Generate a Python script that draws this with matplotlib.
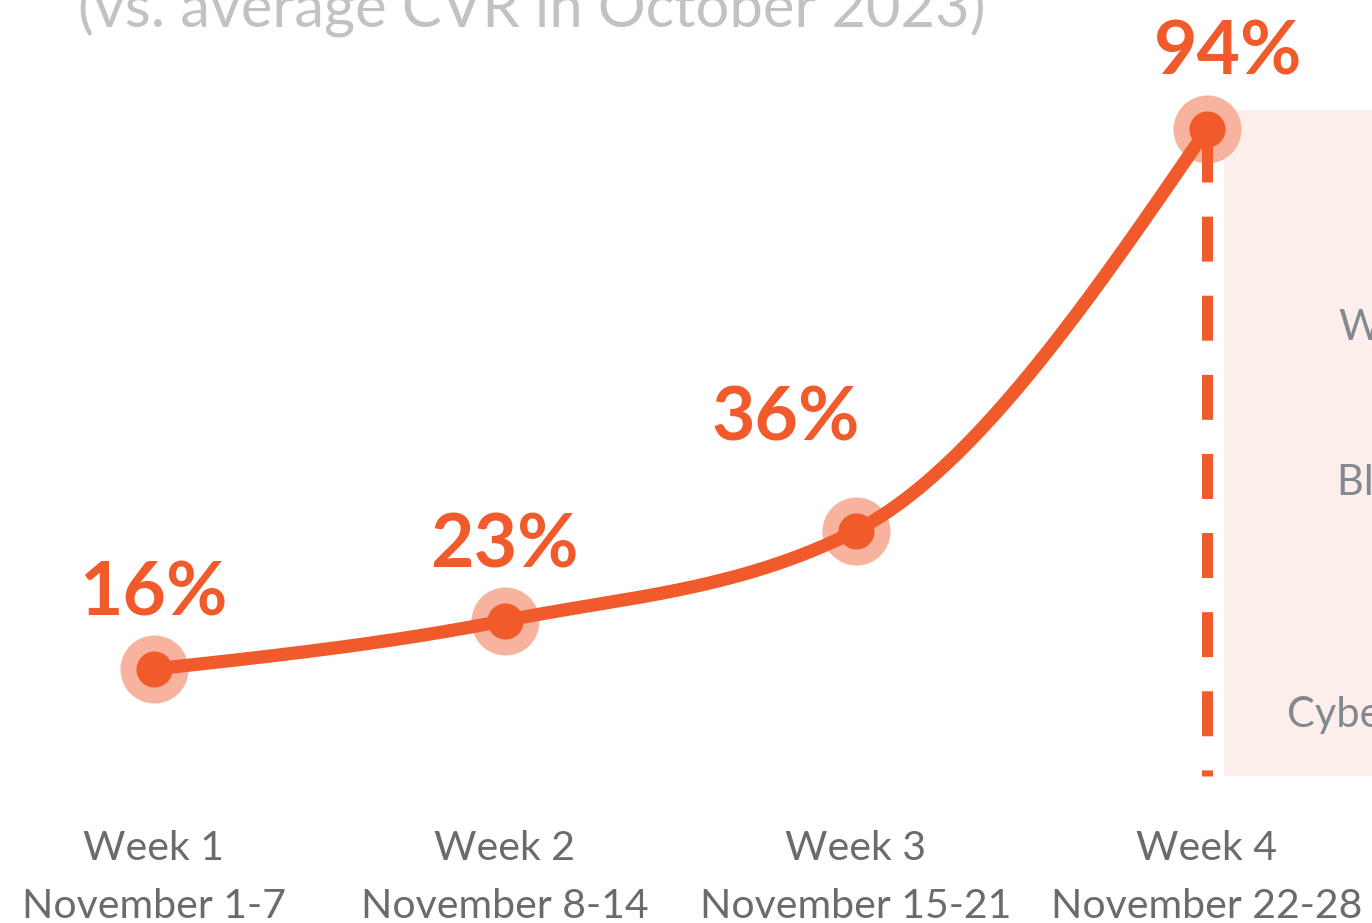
import numpy as np
import matplotlib
matplotlib.use("Agg")
import matplotlib.pyplot as plt
from matplotlib.transforms import blended_transform_factory

# ---------------- data ----------------
weeks = ["Week 1", "Week 2", "Week 3", "Week 4"]
date_ranges = ["November 1-7", "November 8-14", "November 15-21", "November 22-28"]
cvr_lift = [16, 23, 36, 94]          # % increase vs. October average CVR
title_text = "(vs. average CVR in October 2023)"
panel_labels = ["Weekend", "Black Friday", "Cyber Monday"]

# ---------------- style ----------------
ORANGE = "#F15A2B"
HALO = "#F7B39D"
PANEL = "#FCEEEA"
TICK_GRAY = "#6B6B6B"
PANEL_GRAY = "#838990"
TITLE_GRAY = "#C2C2C2"
FONT = "Lato"

W, H = 1372, 923
fig = plt.figure(figsize=(W / 100, H / 100), dpi=100)
ax = fig.add_axes([0, 0, 1, 1])
ax.axis("off")

x = np.arange(len(cvr_lift), dtype=float)
y = np.array(cvr_lift, dtype=float)

# axis scaling (pixel layout): x step 351 px, y 6.92 px per unit
x0_px, dx_px = 154, 351
y0_px, dy_px = 669, 6.92
ax.set_xlim(-x0_px / dx_px, (W - x0_px) / dx_px)
ax.set_ylim(y[0] - (H - y0_px) / dy_px, y[0] + y0_px / dy_px)

def fy(py):
    """axes fraction from pixel row"""
    return 1 - py / H

def fx(px):
    return px / W

# ---------------- monotone cubic (d3 curveMonotoneX) ----------------
h = np.diff(x)
s = np.diff(y) / h
t = np.zeros_like(y)
for i in range(1, len(y) - 1):
    p = (s[i - 1] * h[i] + s[i] * h[i - 1]) / (h[i - 1] + h[i])
    t[i] = (np.sign(s[i - 1]) + np.sign(s[i])) * min(abs(s[i - 1]), abs(s[i]), 0.5 * abs(p))
t[0] = (3 * s[0] - t[1]) / 2
t[-1] = (3 * s[-1] - t[-2]) / 2
cx, cy = [], []
u = np.linspace(0, 1, 60)
for i in range(len(y) - 1):
    d = h[i] / 3
    P0 = np.array([x[i], y[i]])
    P1 = np.array([x[i] + d, y[i] + d * t[i]])
    P2 = np.array([x[i + 1] - d, y[i + 1] - d * t[i + 1]])
    P3 = np.array([x[i + 1], y[i + 1]])
    B = ((1 - u) ** 3)[:, None] * P0 + (3 * (1 - u) ** 2 * u)[:, None] * P1 \
        + (3 * (1 - u) * u ** 2)[:, None] * P2 + (u ** 3)[:, None] * P3
    cx.extend(B[:, 0]); cy.extend(B[:, 1])

# ---------------- shaded panel ----------------
ax.add_patch(plt.Rectangle((fx(1224), fy(776)), fx(W + 50) - fx(1224), fy(110) - fy(776),
                           transform=ax.transAxes, facecolor=PANEL, edgecolor="none", zorder=0))
for lbl, px, py in zip(panel_labels, [1338, 1337, 1287], [328, 483, 715]):
    ax.text(fx(px), fy(py), lbl, transform=ax.transAxes, ha="left", va="center",
            fontsize=30, color=PANEL_GRAY, family=FONT, zorder=1)

# ---------------- halos, line, dots ----------------
ax.plot(x, y, "o", ms=49, color=HALO, mec="none", zorder=2)
ax.plot(cx, cy, color=ORANGE, lw=9.5, solid_capstyle="round", zorder=3)
# dashed marker for last week down to baseline
ax.plot([x[-1], x[-1]], [y[-1], ax.get_ylim()[0] + (H - 776) / dy_px], color=ORANGE, lw=7.9,
        linestyle=(6.48, (4.1, 3.11)), dash_capstyle="butt", zorder=3)
ax.plot(x, y, "o", ms=26, color=ORANGE, mec="none", zorder=4)

# ---------------- value labels ----------------
offsets_px = [(-1, 54), (-1, 53), (-70, 90), (21, 55)]
for xi, yi, (ox, oy) in zip(x, y, offsets_px):
    ax.annotate(f"{int(yi)}%", (xi, yi), xytext=(ox * 0.72, oy * 0.72), textcoords="offset points",
                ha="center", va="baseline", fontsize=54, fontweight="bold", color=ORANGE,
                family=FONT, zorder=5)

# ---------------- x labels ----------------
tr = blended_transform_factory(ax.transData, ax.transAxes)
for xi, wk, dr in zip(x, weeks, date_ranges):
    ax.text(xi, fy(860), wk, transform=tr, ha="center", va="baseline",
            fontsize=29.5, color=TICK_GRAY, family=FONT)
    ax.text(xi, fy(918), dr, transform=tr, ha="center", va="baseline",
            fontsize=29.5, color=TICK_GRAY, family=FONT)

# ---------------- title (partly off canvas) ----------------
ax.text(fx(78), fy(28), title_text, transform=ax.transAxes, ha="left", va="baseline",
        fontsize=43, color=TITLE_GRAY, family=FONT)

fig.savefig("out.png", dpi=100, facecolor="white")
